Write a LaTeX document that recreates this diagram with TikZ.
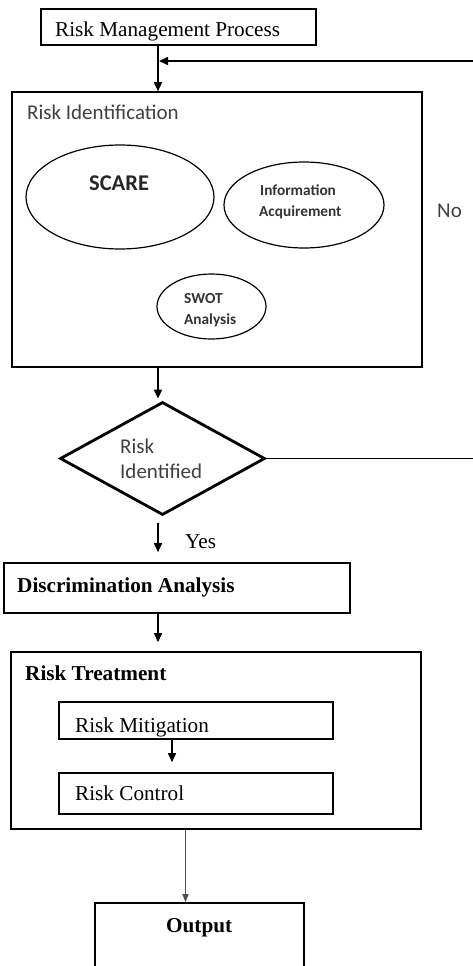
\documentclass[tikz,border=0pt]{standalone}
\usepackage{fontspec}
\setmainfont{Liberation Serif}
\newfontfamily\calfont{Carlito}
\usetikzlibrary{shapes.geometric,arrows.meta}
\tikzset{
  box/.style={draw, line width=1.6pt, inner sep=0pt, rectangle},
  oval/.style={draw, line width=1.2pt, inner sep=0pt, ellipse},
  arr/.style={line width=1.6pt, -{Triangle[length=9pt,width=8pt]}},
  thinarr/.style={line width=1.1pt, draw=black!70, -{Triangle[length=8pt,width=6pt]}},
  sertxt/.style={anchor=base west, inner sep=0pt, font=\fontsize{21.2}{25}\selectfont},
  serbold/.style={anchor=base west, inner sep=0pt, font=\fontsize{21.2}{25}\selectfont\bfseries},
  sanstxt/.style={anchor=base west, inner sep=0pt, text=black!75, font=\calfont\fontsize{21}{25}\selectfont},
  sanssmall/.style={anchor=base west, inner sep=0pt, text=black!80, font=\calfont\bfseries\fontsize{15.3}{18}\selectfont},
}
\begin{document}
\begin{tikzpicture}[x=1pt,y=-1pt]
\clip (0,0) rectangle (473,966);
\fill[white] (0,0) rectangle (473,966);
% boxes
\node[box, minimum width=275pt, minimum height=36pt] (rmp) at (178.5,27) {};
\node[box, minimum width=410pt, minimum height=275pt] (ri) at (217,229.5) {};
\node[oval, minimum width=188pt, minimum height=104pt] (scare) at (120,197) {};
\node[oval, minimum width=160pt, minimum height=86pt] (info) at (304,205) {};
\node[oval, minimum width=109pt, minimum height=65pt] (swot) at (211.5,306.5) {};
\node[draw, diamond, line width=2.8pt, inner sep=0pt, minimum width=205pt, minimum height=113pt] (dia) at (162.5,458.5) {};
\node[box, minimum width=346pt, minimum height=50pt] (disc) at (177,588) {};
\node[box, minimum width=410pt, minimum height=177pt] (rt) at (216,740.5) {};
\node[box, minimum width=274pt, minimum height=37pt] (rm) at (196,720.5) {};
\node[box, minimum width=274pt, minimum height=41pt] (rc) at (196,793.5) {};
\node[box, minimum width=209pt, minimum height=80pt] (out) at (199.5,943) {};
% texts
\node[sertxt] (t1) at (55,37) {Risk Management Process};
\node[sanstxt] (t2) at (27,119) {Risk Identification};
\node[anchor=base west, inner sep=0pt, text=black!85, font=\calfont\bfseries\fontsize{22.5}{26}\selectfont] (t3) at (89,190) {SCARE};
\node[sanssmall] (t4) at (260,195) {Information};
\node[sanssmall] (t5) at (259,216) {Acquirement};
\node[sanssmall] (t6) at (184,303) {SWOT};
\node[sanssmall] (t7) at (184,324) {Analysis};
\node[sanstxt] (t8) at (437,217) {No};
\node[sanstxt] (t9) at (120,453) {Risk};
\node[sanstxt] (t10) at (120,478) {Identified};
\node[sertxt] (t11) at (185,548) {Yes};
\node[serbold] (t12) at (17,592) {Discrimination Analysis};
\node[serbold] (t13) at (25,680) {Risk Treatment};
\node[sertxt] (t14) at (75,732) {Risk Mitigation};
\node[sertxt] (t15) at (75,800) {Risk Control};
\node[serbold] (t16) at (166,932) {Output};
% connectors
\coordinate (cx) at (158,0);
\coordinate (cm) at (172,0);
\coordinate (co) at (185.5,0);
\coordinate (loopx) at (490,0);
\coordinate (fb) at (159,61);
\draw[arr] (rmp.south -| cx) -- (ri.north -| cx);
\draw[line width=1.6pt] (dia.east) -- (dia.east -| loopx) -- (fb -| loopx) -- ([xshift=10pt]fb);
\draw[arr] (fb -| loopx) -- (fb);
\draw[arr] (ri.south -| cx) -- ([yshift=2pt]dia.north -| cx);
\draw[arr] ([yshift=-7pt]dia.south -| cx) -- ([yshift=10pt]disc.north -| cx);
\draw[arr] (disc.south -| cx) -- ([yshift=9pt]rt.north -| cx);
\draw[arr] (rm.south -| cm) -- ([yshift=10pt]rc.north -| cm);
\draw[thinarr] (rt.south -| co) -- (out.north -| co);
\end{tikzpicture}
\end{document}
